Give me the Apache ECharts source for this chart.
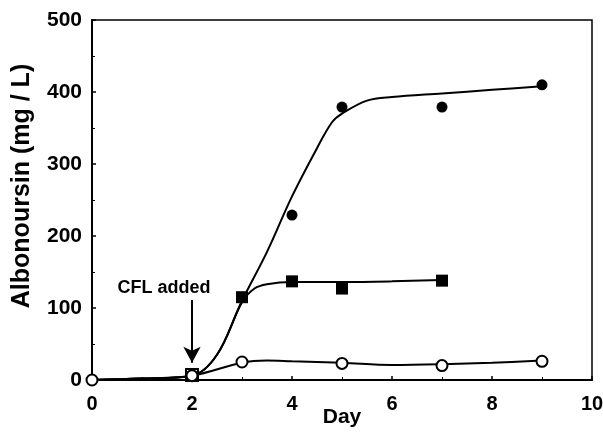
<!DOCTYPE html>
<html>
<head>
<meta charset="utf-8">
<script src="https://cdn.jsdelivr.net/npm/echarts@6/dist/echarts.min.js"></script>
<style>
	html, body { margin: 0; padding: 0; background: #fff; }
	#chart { width: 603px; height: 433px; }
</style>
</head>
<body>
<div id="chart"></div>
<script>
// measured points
var filledCircleDays = [4, 5, 7, 9];
var filledCircleValues = [229, 379, 379, 410];
var squareDays = [2, 3, 4, 5, 7];
var squareValues = [7, 115, 137, 127, 138];
var openCircleDays = [0, 2, 3, 5, 7, 9];
var openCircleValues = [0, 6, 25, 23, 20, 26];

// fitted curves
var fitFilledDays = [0, 1, 2, 2.5, 3, 3.5, 4, 4.5, 4.8, 5, 5.5, 6, 7, 8, 9];
var fitFilledValues = [0, 2, 6, 35, 110, 178, 255, 322, 358, 370, 388, 393, 398, 403, 408];
var fitSquareDays = [0, 1, 2, 2.5, 3, 3.25, 3.5, 4, 5, 6, 7];
var fitSquareValues = [0, 2, 6, 35, 108, 127, 133, 136, 136, 137, 139];
var fitOpenDays = [0, 1, 2, 3, 3.5, 4, 5, 6, 7, 8, 9];
var fitOpenValues = [0, 2, 6, 24, 27, 26, 24, 21, 22, 24, 27];

var annotationText = 'CFL added';
var annotationAt = [1.44, 128];
var arrowFrom = [2, 111];
var arrowTo = [2, 24];

function pairs(xs, ys) {
	return xs.map(function (x, i) { return [x, ys[i]]; });
}

var chart = echarts.init(document.getElementById('chart'));

var fontFamily = '"Liberation Sans", Arial, sans-serif';

function fitLine(xs, ys) {
	return {
		type: 'line',
		data: pairs(xs, ys),
		smooth: 0.35,
		showSymbol: false,
		symbol: 'none',
		lineStyle: { color: '#000', width: 2 },
		z: 2,
		silent: true
	};
}

var squareData = pairs(squareDays, squareValues).map(function (p, i) {
	// the day-2 square shows hollow in the picture
	if (i === 0) {
		return { value: p, itemStyle: { color: '#fff', borderColor: '#000', borderWidth: 2 } };
	}
	return p;
});

chart.setOption({
	animation: false,
	backgroundColor: '#fff',
	grid: {
		left: 92, right: 11, top: 20, bottom: 53,
		outerBoundsMode: 'none',
		containLabel: false,
		show: true,
		borderColor: '#000',
		borderWidth: 1.5
	},
	xAxis: {
		type: 'value',
		min: 0, max: 10, interval: 2,
		name: 'Day',
		nameLocation: 'middle',
		nameGap: 27,
		nameMoveOverlap: false,
		nameTextStyle: { fontFamily: fontFamily, fontWeight: 'bold', fontSize: 21, color: '#000' },
		axisLine: { show: true, lineStyle: { color: '#000', width: 2 } },
		axisTick: { show: true, inside: true, length: 4, lineStyle: { color: '#000', width: 1.5 } },
		minorTick: { show: true, splitNumber: 2, length: 3, lineStyle: { color: '#000', width: 1 } },
		splitLine: { show: false },
		axisLabel: { fontFamily: fontFamily, fontWeight: 'bold', fontSize: 20, color: '#000', margin: 14 }
	},
	yAxis: {
		type: 'value',
		min: 0, max: 500, interval: 100,
		name: 'Albonoursin (mg / L)',
		nameLocation: 'middle',
		nameGap: 57,
		nameMoveOverlap: false,
		nameTextStyle: { fontFamily: fontFamily, fontWeight: 'bold', fontSize: 25, color: '#000', padding: [0, 0, 0, 28] },
		axisLine: { show: true, lineStyle: { color: '#000', width: 2 } },
		axisTick: { show: true, inside: true, length: 4, lineStyle: { color: '#000', width: 1.5 } },
		minorTick: { show: true, splitNumber: 2, length: 3, lineStyle: { color: '#000', width: 1 } },
		splitLine: { show: false },
		axisLabel: { fontFamily: fontFamily, fontWeight: 'bold', fontSize: 21, color: '#000', margin: 10 }
	},
	series: [
		fitLine(fitFilledDays, fitFilledValues),
		fitLine(fitSquareDays, fitSquareValues),
		fitLine(fitOpenDays, fitOpenValues),
		{
			type: 'scatter',
			data: pairs(filledCircleDays, filledCircleValues),
			symbol: 'circle',
			symbolSize: 11,
			itemStyle: { color: '#000', opacity: 1 },
			z: 3
		},
		{
			type: 'scatter',
			data: squareData,
			symbol: 'rect',
			symbolSize: 12,
			itemStyle: { color: '#000', opacity: 1 },
			z: 4
		},
		{
			type: 'scatter',
			data: pairs(openCircleDays, openCircleValues),
			symbol: 'circle',
			symbolSize: 11,
			itemStyle: { color: '#fff', borderColor: '#000', borderWidth: 2, opacity: 1 },
			z: 5,
			markLine: {
				silent: true,
				symbol: ['none', 'arrow'],
				symbolSize: [13, 16],
				lineStyle: { color: '#000', width: 2, type: 'solid' },
				label: { show: false },
				data: [[{ coord: arrowFrom }, { coord: arrowTo }]]
			},
			markPoint: {
				silent: true,
				symbol: 'circle',
				symbolSize: 0,
				label: {
					show: true,
					position: 'inside',
					formatter: annotationText,
					fontFamily: fontFamily,
					fontWeight: 'bold',
					fontSize: 18,
					color: '#000'
				},
				data: [{ coord: annotationAt }]
			}
		}
	]
});
</script>
</body>
</html>
